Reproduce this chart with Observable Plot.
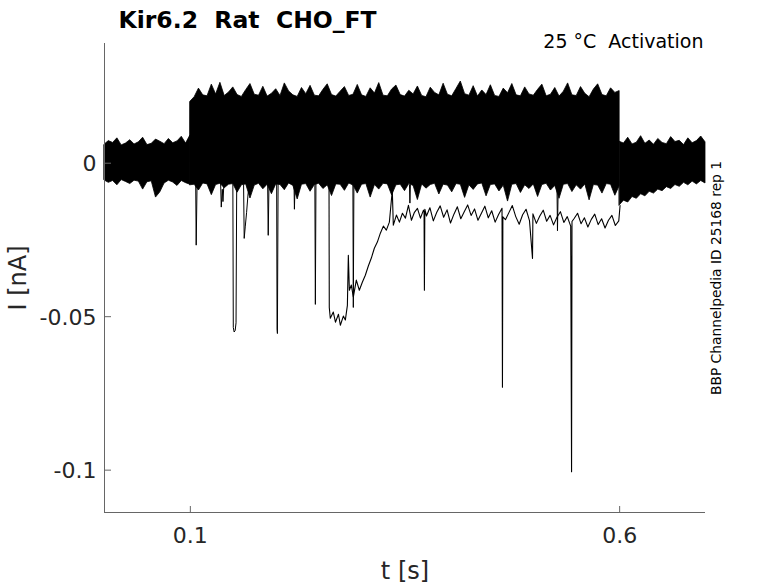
<!DOCTYPE html>
<html>
<head>
<meta charset="utf-8">
<script src="https://cdn.jsdelivr.net/npm/d3@7"></script>
<script src="https://cdn.jsdelivr.net/npm/@observablehq/plot@0.6"></script>
<style>
  html, body { margin: 0; padding: 0; background: #fff; }
  #chart { width: 778px; height: 583px; }
</style>
</head>
<body>
<div id="chart"></div>
<script>
// ---------- text ----------
const titleText = "Kir6.2  Rat  CHO_FT";
const conditionText = "25 °C  Activation";
const sideText = "BBP Channelpedia ID 25168 rep 1";
const xLabel = "t [s]";
const yLabel = "I [nA]";

// ---------- axes ----------
const xDomain = [0, 0.7];
const yDomain = [-0.1138, 0.039];
const xTicks = [0.1, 0.6];
const xTickLabels = ["0.1", "0.6"];
const yTicks = [0, -0.05, -0.1];
const yTickLabels = ["0", "-0.05", "-0.1"];

// ---------- envelope of the overlaid sweeps, read every 5 ms ----------
const envStep = 0.005;
const preStart = 0.0, actStart = 0.1, postStart = 0.6;
// upper edge (nA)
const hiPre = [0.0060, 0.0072, 0.0066, 0.0081, 0.0058, 0.0064, 0.0075, 0.0061, 0.0068, 0.0083,
               0.0059, 0.0063, 0.0077, 0.0070, 0.0062, 0.0079, 0.0065, 0.0071, 0.0086, 0.0064,
               0.0090];
const hiAct = [0.0200, 0.0215, 0.0243, 0.0221, 0.0218, 0.0256, 0.0224, 0.0262, 0.0219, 0.0230,
               0.0247, 0.0222, 0.0216, 0.0238, 0.0258, 0.0223, 0.0220, 0.0249, 0.0217, 0.0226,
               0.0241, 0.0219, 0.0260, 0.0234, 0.0221, 0.0216, 0.0245, 0.0225, 0.0252, 0.0220,
               0.0218, 0.0239, 0.0257, 0.0222, 0.0217, 0.0233, 0.0248, 0.0219, 0.0223, 0.0255,
               0.0221, 0.0216, 0.0244, 0.0227, 0.0261, 0.0220, 0.0218, 0.0240, 0.0253, 0.0222,
               0.0217, 0.0236, 0.0224, 0.0250, 0.0219, 0.0215, 0.0246, 0.0229, 0.0221, 0.0259,
               0.0223, 0.0218, 0.0242, 0.0266, 0.0225, 0.0220, 0.0251, 0.0217, 0.0237, 0.0222,
               0.0254, 0.0219, 0.0216, 0.0243, 0.0228, 0.0258, 0.0221, 0.0218, 0.0247, 0.0224,
               0.0220, 0.0239, 0.0256, 0.0218, 0.0223, 0.0245, 0.0217, 0.0233, 0.0260, 0.0221,
               0.0219, 0.0248, 0.0226, 0.0215, 0.0240, 0.0257, 0.0222, 0.0218, 0.0244, 0.0229,
               0.0235];
const hiPost = [0.0070, 0.0064, 0.0083, 0.0061, 0.0067, 0.0088, 0.0063, 0.0074, 0.0060, 0.0079,
                0.0066, 0.0062, 0.0085, 0.0069, 0.0073, 0.0059, 0.0081, 0.0065, 0.0072, 0.0087,
                0.0068];
// lower edge (nA)
const loPre = [-0.0056, -0.0064, -0.0058, -0.0072, -0.0055, -0.0061, -0.0068, -0.0057, -0.0060, -0.0086,
               -0.0062, -0.0059, -0.0112, -0.0095, -0.0066, -0.0057, -0.0063, -0.0074, -0.0058, -0.0065,
               -0.0070];
const loAct = [-0.0072, -0.0070, -0.0089, -0.0066, -0.0069, -0.0104, -0.0071, -0.0067, -0.0082, -0.0070,
               -0.0068, -0.0096, -0.0072, -0.0069, -0.0115, -0.0073, -0.0067, -0.0085, -0.0070, -0.0101,
               -0.0069, -0.0071, -0.0088, -0.0066, -0.0074, -0.0118, -0.0070, -0.0068, -0.0093, -0.0071,
               -0.0067, -0.0084, -0.0072, -0.0107, -0.0069, -0.0070, -0.0090, -0.0066, -0.0073, -0.0099,
               -0.0070, -0.0068, -0.0112, -0.0071, -0.0086, -0.0067, -0.0069, -0.0105, -0.0072, -0.0070,
               -0.0091, -0.0068, -0.0074, -0.0120, -0.0069, -0.0083, -0.0071, -0.0067, -0.0102, -0.0070,
               -0.0073, -0.0095, -0.0068, -0.0070, -0.0113, -0.0072, -0.0087, -0.0069, -0.0066, -0.0108,
               -0.0071, -0.0069, -0.0092, -0.0073, -0.0125, -0.0070, -0.0068, -0.0097, -0.0072, -0.0084,
               -0.0069, -0.0110, -0.0071, -0.0067, -0.0089, -0.0074, -0.0116, -0.0070, -0.0068, -0.0094,
               -0.0072, -0.0086, -0.0069, -0.0121, -0.0071, -0.0073, -0.0099, -0.0068, -0.0070, -0.0106,
               -0.0075];
const loPost = [-0.0138, -0.0122, -0.0128, -0.0110, -0.0116, -0.0101, -0.0108, -0.0093, -0.0099, -0.0086,
                -0.0091, -0.0078, -0.0084, -0.0071, -0.0077, -0.0064, -0.0072, -0.0060, -0.0069, -0.0058,
                -0.0066];

// ---------- the sweep that inactivates (t in s, I in nA) ----------
const inactT = [0.2600, 0.2615, 0.2618, 0.2630, 0.2665, 0.2690, 0.2725, 0.2747, 0.2782, 0.2805,
                0.2829, 0.2840, 0.2852, 0.2875, 0.2898, 0.2933, 0.2968, 0.3003, 0.3038, 0.3073,
                0.3108, 0.3143, 0.3178, 0.3213, 0.3248, 0.3283, 0.3318, 0.3352, 0.3364, 0.3400,
                0.3435, 0.3470, 0.3505, 0.3540, 0.3575, 0.3610, 0.3645, 0.3680, 0.3715, 0.3722,
                0.3726, 0.3731, 0.375, 0.379, 0.383, 0.387, 0.391, 0.395, 0.399, 0.403,
                0.407, 0.411, 0.415, 0.419, 0.423, 0.427, 0.431, 0.435, 0.439, 0.443,
                0.447, 0.451, 0.455, 0.459, 0.463, 0.4635, 0.4640, 0.467, 0.471, 0.475,
                0.479, 0.483, 0.487, 0.491, 0.495, 0.4985, 0.499, 0.503, 0.507, 0.511,
                0.515, 0.519, 0.523, 0.527, 0.531, 0.535, 0.539, 0.543, 0.5440, 0.5445,
                0.547, 0.551, 0.555, 0.559, 0.563, 0.567, 0.571, 0.575, 0.579, 0.583,
                0.587, 0.591, 0.595, 0.599, 0.6005];
const inactI = [-0.0040, -0.0060, -0.0470, -0.0505, -0.0485, -0.0518, -0.0492, -0.0528, -0.0498, -0.0511,
                -0.0463, -0.0300, -0.0414, -0.0397, -0.0436, -0.0381, -0.0414, -0.0388, -0.0365, -0.0335,
                -0.0309, -0.0277, -0.0257, -0.0228, -0.0205, -0.0218, -0.0192, -0.0088, -0.0202, -0.0169,
                -0.0192, -0.0163, -0.0179, -0.0137, -0.0186, -0.0160, -0.0147, -0.0179, -0.0153, -0.0160,
                -0.0414, -0.0150, -0.0172, -0.0145, -0.0188, -0.0160, -0.0139, -0.0176, -0.0152, -0.0195,
                -0.0166, -0.0142, -0.0181, -0.0158, -0.0136, -0.0170, -0.0149, -0.0186, -0.0163, -0.0140,
                -0.0178, -0.0155, -0.0192, -0.0167, -0.0147, -0.0730, -0.0175, -0.0184, -0.0161, -0.0138,
                -0.0174, -0.0199, -0.0168, -0.0150, -0.0187, -0.0310, -0.0165, -0.0196, -0.0172, -0.0153,
                -0.0189, -0.0170, -0.0201, -0.0176, -0.0158, -0.0193, -0.0174, -0.0205, -0.1005, -0.0190,
                -0.0180, -0.0163, -0.0197, -0.0178, -0.0208, -0.0183, -0.0166, -0.0200, -0.0181, -0.0211,
                -0.0186, -0.0170, -0.0203, -0.0188, -0.0138];

// ---------- brief openings in other sweeps (id, t in s, I in nA) ----------
const spikeId = [1,1,1, 2,2,2,2,2,2, 3,3,3,3,3,3, 4,4,4,4,4, 5,5,5, 6,6,6,6, 7,7,7, 8,8,8, 9,9,9, 10,10,10, 11,11,11];
const spikeT  = [0.1062, 0.1068, 0.1078,
                 0.1495, 0.1500, 0.1510, 0.1522, 0.1532, 0.1540,
                 0.1620, 0.1627, 0.1640, 0.1655, 0.1672, 0.1690,
                 0.1352, 0.1360, 0.1372, 0.1380, 0.1392,
                 0.1900, 0.1907, 0.1916,
                 0.2005, 0.2010, 0.2014, 0.2022,
                 0.2450, 0.2456, 0.2463,
                 0.2207, 0.2212, 0.2220,
                 0.2893, 0.2898, 0.2905,
                 0.3552, 0.3557, 0.3563,
                 0.5270, 0.5276, 0.5284];
const spikeI  = [-0.0060, -0.0267, -0.0070,
                 -0.0060, -0.0535, -0.0550, -0.0545, -0.0520, -0.0060,
                 -0.0070, -0.0245, -0.0205, -0.0160, -0.0100, -0.0075,
                 -0.0060, -0.0143, -0.0085, -0.0125, -0.0060,
                 -0.0060, -0.0235, -0.0060,
                 -0.0060, -0.0540, -0.0555, -0.0060,
                 -0.0060, -0.0460, -0.0060,
                 -0.0060, -0.0150, -0.0060,
                 -0.0060, -0.0470, -0.0060,
                 -0.0070, -0.0130, -0.0070,
                 -0.0070, -0.0220, -0.0080];

// ---------- build tables ----------
function segment(start, hi, lo) {
  return hi.map((h, i) => ({t: +(start + i * envStep).toFixed(4), hi: h, lo: lo[i]}));
}
const envPre = segment(preStart, hiPre, loPre);
const envAct = segment(actStart, hiAct, loAct);
const envPost = segment(postStart, hiPost, loPost);
const inact = inactT.map((t, i) => ({t, I: inactI[i]}));
const spikes = spikeT.map((t, i) => ({id: spikeId[i], t, I: spikeI[i]}));

const W = 778, H = 583;
const mL = 104, mR = 73, mT = 43, mB = 71;
const frameW = W - mL - mR, frameH = H - mT - mB;
const axisColor = "#666666";
const textColor = "#262626";
const font = "DejaVu Sans, Liberation Sans, sans-serif";
const bandStyle = {x: "t", y1: "lo", y2: "hi", fill: "black", stroke: "black", strokeWidth: 0.8};

const plot = Plot.plot({
  width: W,
  height: H,
  marginLeft: mL, marginRight: mR, marginTop: mT, marginBottom: mB,
  style: {fontFamily: font, background: "white", overflow: "visible"},
  x: {domain: xDomain, axis: null},
  y: {domain: yDomain, axis: null},
  marks: [
    // traces
    Plot.areaY(envPre, bandStyle),
    Plot.areaY(envAct, bandStyle),
    Plot.areaY(envPost, bandStyle),
    Plot.line(inact, {x: "t", y: "I", stroke: "black", strokeWidth: 1.1}),
    Plot.line(spikes, {x: "t", y: "I", z: "id", stroke: "black", strokeWidth: 1}),
    // axis lines
    Plot.ruleX([xDomain[0]], {stroke: axisColor, strokeWidth: 1}),
    Plot.ruleY([yDomain[0]], {stroke: axisColor, strokeWidth: 1}),
    // inward ticks
    Plot.tickX(xTicks, {x: d => d, stroke: axisColor, insetTop: frameH - 6}),
    Plot.tickY(yTicks, {y: d => d, stroke: axisColor, insetRight: frameW - 7}),
    // tick labels
    Plot.text(xTicks, {x: d => d, text: (d, i) => xTickLabels[i], frameAnchor: "bottom", dy: 30,
      textAnchor: "middle", lineAnchor: "bottom", fontSize: 22, fill: textColor}),
    Plot.text(yTicks, {y: d => d, text: (d, i) => yTickLabels[i], frameAnchor: "left", dx: -8, dy: 1,
      textAnchor: "end", fontSize: 22, fill: textColor}),
    // axis titles
    Plot.text([xLabel], {frameAnchor: "bottom", dy: 66, textAnchor: "middle", lineAnchor: "bottom",
      fontSize: 24, fill: textColor}),
    Plot.text([yLabel], {frameAnchor: "left", dx: -79, rotate: -90, textAnchor: "middle", lineAnchor: "bottom",
      fontSize: 24, fill: textColor}),
    // title and annotations
    Plot.text([titleText], {frameAnchor: "top-left", dx: 14, dy: -16, textAnchor: "start", lineAnchor: "bottom",
      fontSize: 23.5, fontWeight: "bold", fill: "black"}),
    Plot.text([conditionText], {frameAnchor: "top-right", dx: -2, dy: 4, textAnchor: "end", lineAnchor: "bottom",
      fontSize: 19, fill: "black"}),
    Plot.text([sideText], {frameAnchor: "right", dx: 15, rotate: -90, textAnchor: "middle", lineAnchor: "bottom",
      fontSize: 13.8, fill: "black"})
  ]
});
document.getElementById("chart").appendChild(plot);
</script>
</body>
</html>
